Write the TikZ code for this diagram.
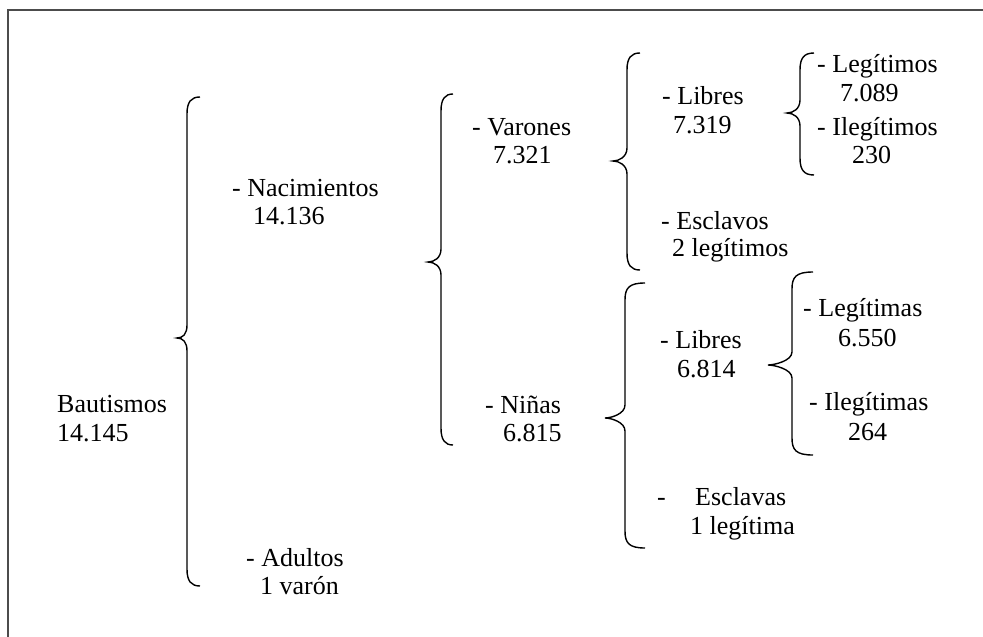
\documentclass[tikz,border=0pt]{standalone}
\usepackage{fontspec}
\setmainfont{Liberation Serif}
\newcommand{\mybrace}[6]{%
  \draw[bracelin] (#1,#4) .. controls ({#2+4},#4) and (#2,{#4+5}) .. (#2,{#4+17})
    -- (#2,{#5-13}) .. controls (#2,{#5-4}) and ({#3+6},#5) .. (#3,#5)
    .. controls ({#3+6},#5) and (#2,{#5+4}) .. (#2,{#5+13})
    -- (#2,{#6-17}) .. controls (#2,{#6-5}) and ({#2+4},#6) .. (#1,#6);}
\begin{document}
\begin{tikzpicture}[x=1pt,y=-1pt,
  lbl/.style={anchor=base west,inner sep=0pt,font=\fontsize{26}{30}\selectfont},
  bracelin/.style={draw=black,line width=1.4pt},
  frameline/.style={draw=black!70,line width=2pt}]
\useasboundingbox (0,0) rectangle (983,637);
\draw[frameline] (8,637) -- (8,10) -- (983,10);
% braces
\mybrace{200}{187}{177}{97}{338}{586}
\mybrace{453}{441}{428}{94}{262}{445}
\mybrace{640}{627}{613}{53}{161}{270}
\mybrace{814}{800}{787}{53}{113}{175}
\mybrace{645}{625}{605}{283}{418}{548}
\mybrace{813}{792}{768}{272}{365}{455}
% texts (baseline = centre + 8)
\node[lbl] (baut) at (57,412) {Bautismos};
\node[lbl] (bautn) at (57,441) {14.145};
\node[lbl] (nac) at (232,196) {- Nacimientos};
\node[lbl] (nacn) at (253,224) {14.136};
\node[lbl] (adu) at (246,566) {- Adultos};
\node[lbl] (adun) at (260,594) {1 varón};
\node[lbl] (var) at (472,135) {- Varones};
\node[lbl] (varn) at (493,163) {7.321};
\node[lbl] (nin) at (485,413) {- Niñas};
\node[lbl] (ninn) at (503,441) {6.815};
\node[lbl] (libv) at (662,104) {- Libres};
\node[lbl] (libvn) at (673,133) {7.319};
\node[lbl] (escv) at (661,229) {- Esclavos};
\node[lbl] (escvn) at (672,256) {2 legítimos};
\node[lbl] (legv) at (817,72) {- Legítimos};
\node[lbl] (legvn) at (840,101) {7.089};
\node[lbl] (ilev) at (817,135) {- Ilegítimos};
\node[lbl] (ilevn) at (852,163) {230};
\node[lbl] (libn) at (660,348) {- Libres};
\node[lbl] (libnn) at (677,377) {6.814};
\node[lbl] (legn) at (803,316) {- Legítimas};
\node[lbl] (legnn) at (838,346) {6.550};
\node[lbl] (ilen) at (809,410) {- Ilegítimas};
\node[lbl] (ilenn) at (848,440) {264};
\node[lbl] (escd) at (657,505) {-};
\node[lbl] (escn) at (695,505) {Esclavas};
\node[lbl] (escnn) at (690,534) {1 legítima};
\end{tikzpicture}
\end{document}
